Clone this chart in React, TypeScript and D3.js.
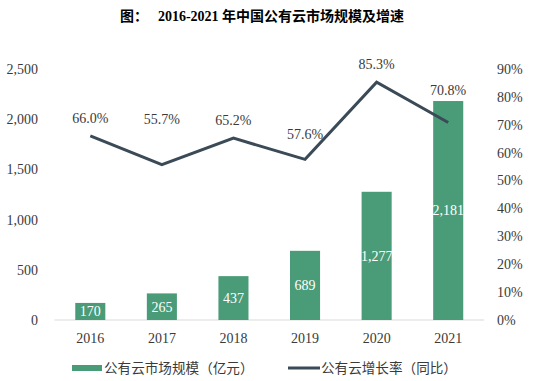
import React from "react";
import * as d3 from "d3";

const categories = ["2016", "2017", "2018", "2019", "2020", "2021"];
const marketSize = [170, 265, 437, 689, 1277, 2181];
const growthRate = [66.0, 55.7, 65.2, 57.6, 85.3, 70.8];
const leftTicks = [0, 500, 1000, 1500, 2000, 2500];
const rightTicks = [0, 10, 20, 30, 40, 50, 60, 70, 80, 90];
const rateLabelGap = [18, 46, 18, 25, 18, 32];

const W = 533, H = 381;
const serif = "'Liberation Serif', 'Times New Roman', serif";
const cjk = "'Noto Sans CJK SC', sans-serif";

export default function App() {
  const x = d3.scaleBand<string>().domain(categories).range([54.5, 484]).paddingInner(0.58).paddingOuter(0.29);
  const xc = (c: string) => (x(c) as number) + x.bandwidth() / 2;
  const yL = d3.scaleLinear().domain([0, 2500]).range([320, 69]);
  const yR = d3.scaleLinear().domain([0, 90]).range([320, 69]);
  const line = d3.line<number>().x((_, i) => xc(categories[i])).y((d) => yR(d));
  const green = "#4a9c78";
  const dark = "#3b4a57";
  const fmt = d3.format(",");
  const fs = 14;
  return (
    <svg width={W} height={H} style={{ position: "absolute", left: 0, top: 0, background: "#fff" }}>
      <text x={262} y={21} textAnchor="middle" fontSize={14} fontWeight="bold" fontFamily={serif} fill="#000">
        <tspan fontFamily={cjk}>图：</tspan>
        <tspan dx={10}>2016-2021 </tspan>
        <tspan fontFamily={cjk}>年中国公有云市场规模及增速</tspan>
      </text>
      {leftTicks.map((t) => (
        <text key={t} x={38} y={yL(t)} dy="0.35em" textAnchor="end" fontSize={fs} fontFamily={serif} fill="#3a3a3a">{fmt(t)}</text>
      ))}
      {rightTicks.map((t) => (
        <text key={t} x={497} y={yR(t)} dy="0.35em" textAnchor="start" fontSize={fs} fontFamily={serif} fill="#3a3a3a">{t}%</text>
      ))}
      <line x1={54.5} x2={484} y1={320} y2={320} stroke="#d9d9d9" strokeWidth={1} />
      {categories.map((c, i) => (
        <g key={c}>
          <rect x={x(c)} y={yL(marketSize[i])} width={x.bandwidth()} height={320 - yL(marketSize[i])} fill={green} />
          <text x={xc(c)} y={(yL(marketSize[i]) + 320) / 2} dy="0.35em" textAnchor="middle" fontSize={fs} fontFamily={serif} fill="#fff">{fmt(marketSize[i])}</text>
          <text x={xc(c)} y={338} dy="0.35em" textAnchor="middle" fontSize={fs} fontFamily={serif} fill="#3a3a3a">{c}</text>
        </g>
      ))}
      <path d={line(growthRate) || ""} fill="none" stroke={dark} strokeWidth={3} />
      {categories.map((c, i) => (
        <text key={c} x={xc(c)} y={yR(growthRate[i]) - rateLabelGap[i]} dy="0.35em" textAnchor="middle" fontSize={fs} fontFamily={serif} fill="#3a3a3a">{growthRate[i].toFixed(1)}%</text>
      ))}
      <rect x={72} y={365} width={30} height={6} fill={green} />
      <text x={104} y={368} dy="0.35em" fontSize={13.6} fontFamily={cjk} fill="#3a3a3a">公有云市场规模（亿元）</text>
      <line x1={288} x2={320} y1={368} y2={368} stroke={dark} strokeWidth={3} />
      <text x={321} y={368} dy="0.35em" fontSize={13.6} fontFamily={cjk} fill="#3a3a3a">公有云增长率（同比）</text>
    </svg>
  );
}
